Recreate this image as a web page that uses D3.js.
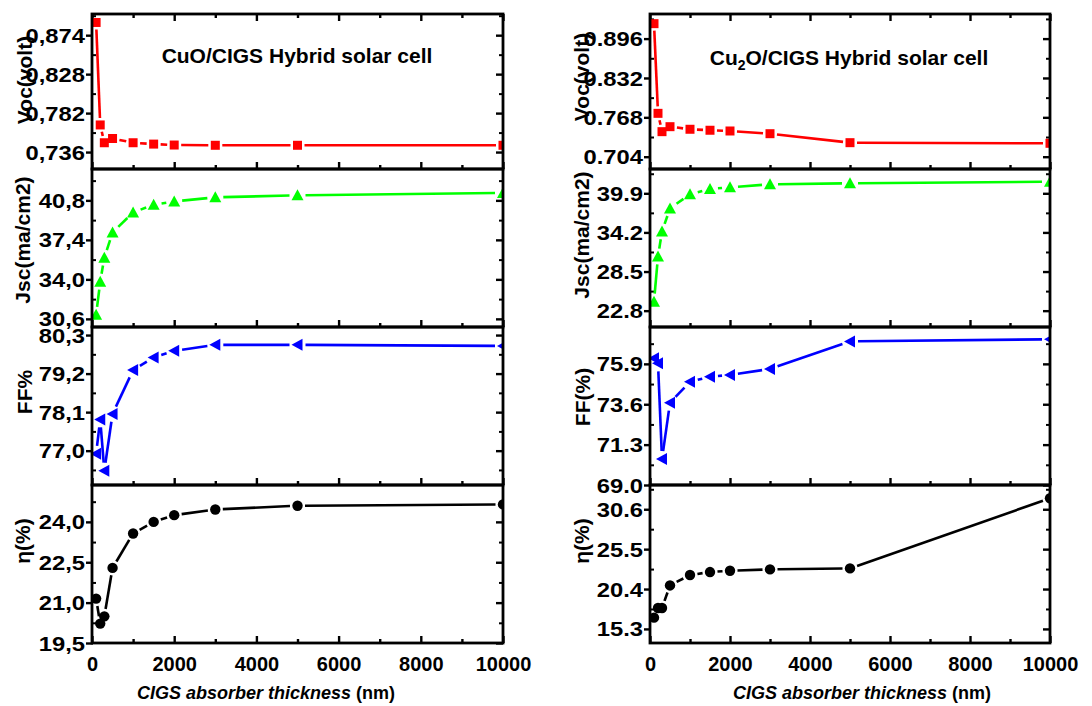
<!DOCTYPE html>
<html>
<head>
<meta charset="utf-8">
<script src="https://cdn.jsdelivr.net/npm/d3@7"></script>
<style>
  html, body { margin: 0; padding: 0; background: #fff; }
  svg { display: block; }
  text { font-family: "Liberation Sans", Arial, sans-serif; font-weight: bold; fill: #000; }
</style>
</head>
<body>
<svg id="chart" width="1092" height="706"></svg>
<script>
// CIGS absorber thickness (nm)
const thickness = [100, 200, 300, 500, 1000, 1500, 2000, 3000, 5000, 10000];

// CuO/CIGS cell
const vocCuO = [0.889, 0.768, 0.747, 0.752, 0.747, 0.7454, 0.7443, 0.744, 0.744, 0.744];
const jscCuO = [30.95, 33.8, 35.87, 38.04, 39.76, 40.43, 40.71, 41.06, 41.23, 41.44];
const ffCuO  = [76.91, 77.89, 76.43, 78.05, 79.30, 79.66, 79.85, 80.02, 80.02, 79.99];
const etaCuO = [21.15, 20.22, 20.49, 22.29, 23.57, 24.0, 24.25, 24.46, 24.6, 24.65];

// Cu2O/CIGS cell
const vocCu2O = [0.9203, 0.7745, 0.7447, 0.7528, 0.7486, 0.747, 0.7458, 0.7414, 0.7268, 0.7258];
const jscCu2O = [24.11, 30.69, 34.35, 37.70, 39.75, 40.53, 40.77, 41.21, 41.36, 41.59];
const ffCu2O  = [76.22, 75.93, 70.48, 73.69, 74.88, 75.17, 75.27, 75.61, 77.18, 77.30];
const etaCu2O = [16.74, 17.98, 17.98, 20.86, 22.19, 22.57, 22.74, 22.91, 23.04, 32.0];

// y tick labels
const vocTicksCuO = [0.736, 0.782, 0.828, 0.874];
const jscTicksCuO = [30.6, 34.0, 37.4, 40.8];
const ffTicksCuO  = [77.0, 78.1, 79.2, 80.3];
const etaTicksCuO = [19.5, 21.0, 22.5, 24.0];
const vocTicksCu2O = [0.704, 0.768, 0.832, 0.896];
const jscTicksCu2O = [22.8, 28.5, 34.2, 39.9];
const ffTicksCu2O  = [69.0, 71.3, 73.6, 75.9];
const etaTicksCu2O = [15.3, 20.4, 25.5, 30.6];

// x ticks
const xMajorTicks = [0, 2000, 4000, 6000, 8000, 10000];
const xMinorTicks = [1000, 3000, 5000, 7000, 9000];

const svg = d3.select("#chart");

const rowEdges = [14, 169, 327, 485, 643];
const LINE_W = 2.6;
const LABEL_STRETCH = 1.22;

const columns = [
  {
    id: "cuo", x0: 92, x1: 503, dec: ",",
    title: [{t: "CuO/CIGS Hybrid solar cell"}], titleX: 297, titleY: 63,
    xTitleX: 266,
    rows: [
      {values: vocCuO, ticks: vocTicksCuO, domain: [0.716, 0.899], digits: 3, color: "#ff0000", marker: "square", label: "Voc(volt)", lx: 32, ly: 80},
      {values: jscCuO, ticks: jscTicksCuO, domain: [29.9, 43.5], digits: 1, color: "#00ff00", marker: "triUp", label: "Jsc(ma/cm2)", lx: 30, ly: 240},
      {values: ffCuO, ticks: ffTicksCuO, domain: [76.02, 80.53], digits: 1, color: "#0000ff", marker: "triLeft", label: "FF%", lx: 32, ly: 392},
      {values: etaCuO, ticks: etaTicksCuO, domain: [19.5, 25.37], digits: 1, color: "#000000", marker: "circle", label: "η(%)", lx: 30, ly: 541}
    ]
  },
  {
    id: "cu2o", x0: 650, x1: 1050, dec: ".",
    title: [{t: "Cu"}, {t: "2", sub: true}, {t: "O/CIGS Hybrid solar cell"}], titleX: 849, titleY: 65,
    xTitleX: 862,
    rows: [
      {values: vocCu2O, ticks: vocTicksCu2O, domain: [0.684, 0.936], digits: 3, color: "#ff0000", marker: "square", label: "Voc(volt)", lx: 589, ly: 77},
      {values: jscCu2O, ticks: jscTicksCu2O, domain: [20.42, 43.44], digits: 1, color: "#00ff00", marker: "triUp", label: "Jsc(ma/cm2)", lx: 589, ly: 235},
      {values: ffCu2O, ticks: ffTicksCu2O, domain: [69.0, 78.0], digits: 1, color: "#0000ff", marker: "triLeft", label: "FF(%)", lx: 590, ly: 397},
      {values: etaCu2O, ticks: etaTicksCu2O, domain: [13.5, 33.7], digits: 1, color: "#000000", marker: "circle", label: "η(%)", lx: 589, ly: 541}
    ]
  }
];

const markerPaths = {
  square: d3.symbol().type(d3.symbolSquare).size(81)(),
  circle: d3.symbol().type(d3.symbolCircle).size(85)(),
  triUp: "M0,-6L6,5L-6,5Z",
  triLeft: "M-6,0L5,-6L5,6Z"
};
const markerGap = { square: 7, circle: 7.5, triUp: 8, triLeft: 8 };

columns.forEach(col => {
  const x = d3.scaleLinear().domain([0, 10000]).range([col.x0, col.x1]);
  const fmtFor = digits => v => d3.format("." + digits + "f")(v).replace(".", col.dec);

  col.rows.forEach((row, i) => {
    const top = rowEdges[i], bottom = rowEdges[i + 1];
    const y = d3.scaleLinear().domain(row.domain).range([bottom, top]);
    const g = svg.append("g");
    const clipId = "clip-" + col.id + "-" + i;
    svg.append("clipPath").attr("id", clipId)
      .append("rect").attr("x", col.x0).attr("y", top).attr("width", col.x1 - col.x0).attr("height", bottom - top);

    // y axis: major ticks outward on left, minor inward; inward ticks on right
    const step = row.ticks[1] - row.ticks[0];
    const minor = [];
    for (let v = row.ticks[0] - step / 2; v <= row.domain[1]; v += step) {
      if (v >= row.domain[0]) minor.push(v);
    }
    const leftMajor = d3.axisLeft(y).tickValues(row.ticks).tickSize(7).tickPadding(1).tickFormat(fmtFor(row.digits));
    const la = g.append("g").attr("transform", `translate(${col.x0 + 1},0)`).call(leftMajor);
    la.select(".domain").remove();
    la.selectAll("line").attr("stroke", "#000").attr("stroke-width", 2.4);
    la.selectAll("text")
      .attr("font-size", 19.5).attr("font-family", null).attr("dy", "0.36em")
      .attr("transform", function() {
        const tx = +d3.select(this).attr("x");
        return `translate(${tx},0) scale(${LABEL_STRETCH},1) translate(${-tx},0)`;
      });

    const leftMinor = d3.axisLeft(y).tickValues(minor).tickSize(-4).tickFormat("");
    const lm = g.append("g").attr("transform", `translate(${col.x0},0)`).call(leftMinor);
    lm.select(".domain").remove();
    lm.selectAll("line").attr("stroke", "#000").attr("stroke-width", 2);

    const rightMajor = d3.axisRight(y).tickValues(row.ticks).tickSize(-7).tickFormat("");
    const ra = g.append("g").attr("transform", `translate(${col.x1},0)`).call(rightMajor);
    ra.select(".domain").remove();
    ra.selectAll("line").attr("stroke", "#000").attr("stroke-width", 2.4);
    const rightMinor = d3.axisRight(y).tickValues(minor).tickSize(-4).tickFormat("");
    const rm = g.append("g").attr("transform", `translate(${col.x1},0)`).call(rightMinor);
    rm.select(".domain").remove();
    rm.selectAll("line").attr("stroke", "#000").attr("stroke-width", 2);

    // x ticks pointing inward at bottom of every row
    const bMajor = d3.axisBottom(x).tickValues(xMajorTicks).tickSize(-7).tickFormat("");
    const bm = g.append("g").attr("transform", `translate(0,${bottom})`).call(bMajor);
    bm.select(".domain").remove();
    bm.selectAll("line").attr("stroke", "#000").attr("stroke-width", 2.4);
    const bMinor = d3.axisBottom(x).tickValues(xMinorTicks).tickSize(-4).tickFormat("");
    const bn = g.append("g").attr("transform", `translate(0,${bottom})`).call(bMinor);
    bn.select(".domain").remove();
    bn.selectAll("line").attr("stroke", "#000").attr("stroke-width", 2.4);

    if (i === 0) {
      const tMajor = d3.axisTop(x).tickValues(xMajorTicks).tickSize(-7).tickFormat("");
      const tm = g.append("g").attr("transform", `translate(0,${top})`).call(tMajor);
      tm.select(".domain").remove();
      tm.selectAll("line").attr("stroke", "#000").attr("stroke-width", 2.4);
      const tMinor = d3.axisTop(x).tickValues(xMinorTicks).tickSize(-4).tickFormat("");
      const tn = g.append("g").attr("transform", `translate(0,${top})`).call(tMinor);
      tn.select(".domain").remove();
      tn.selectAll("line").attr("stroke", "#000").attr("stroke-width", 2.4);
    }

    if (i === 3) {
      const xl = d3.axisBottom(x).tickValues(xMajorTicks).tickSize(0).tickPadding(14).tickFormat(d3.format("d"));
      const xa = g.append("g").attr("transform", `translate(0,${bottom})`).call(xl);
      xa.select(".domain").remove();
      xa.selectAll("text").attr("font-size", 20).attr("font-family", null);
    }

    // data line with gaps around the markers
    const pts = thickness.map((t, k) => [x(t), y(row.values[k])]);
    const gap = markerGap[row.marker];
    const segs = [];
    for (let k = 0; k < pts.length - 1; k++) {
      const [ax, ay] = pts[k], [bx, by] = pts[k + 1];
      const len = Math.hypot(bx - ax, by - ay);
      if (len <= 2 * gap + 0.5) continue;
      const ux = (bx - ax) / len, uy = (by - ay) / len;
      segs.push([[ax + ux * gap, ay + uy * gap], [bx - ux * gap, by - uy * gap]]);
    }
    const plot = svg.append("g").attr("clip-path", `url(#${clipId})`);
    plot.selectAll("line.seg").data(segs).join("line")
      .attr("class", "seg")
      .attr("x1", d => d[0][0]).attr("y1", d => d[0][1])
      .attr("x2", d => d[1][0]).attr("y2", d => d[1][1])
      .attr("stroke", row.color).attr("stroke-width", LINE_W);
    plot.selectAll("path.mk").data(pts).join("path")
      .attr("class", "mk")
      .attr("d", markerPaths[row.marker])
      .attr("transform", d => `translate(${d[0]},${d[1]})`)
      .attr("fill", row.color);

    // frame
    svg.append("rect")
      .attr("x", col.x0).attr("y", top)
      .attr("width", col.x1 - col.x0).attr("height", bottom - top)
      .attr("fill", "none").attr("stroke", "#000").attr("stroke-width", 2.8);

    // y axis title
    svg.append("text")
      .attr("transform", `translate(${row.lx},${row.ly}) rotate(-90)`)
      .attr("text-anchor", "middle")
      .attr("font-size", 21)
      .text(row.label);
  });

  // panel title
  const tt = svg.append("text")
    .attr("x", col.titleX).attr("y", col.titleY)
    .attr("text-anchor", "middle").attr("font-size", 21);
  col.title.forEach(p => {
    const s = tt.append("tspan").text(p.t);
    if (p.sub) s.attr("font-size", 14).attr("dy", 5);
    else if (p !== col.title[0]) s.attr("dy", -5);
  });

  // x axis title
  const xt = svg.append("text")
    .attr("x", col.xTitleX).attr("y", 699)
    .attr("text-anchor", "middle").attr("font-size", 18);
  xt.append("tspan").attr("font-style", "italic").text("CIGS absorber thickness");
  xt.append("tspan").text(" (nm)");
});
</script>
</body>
</html>
